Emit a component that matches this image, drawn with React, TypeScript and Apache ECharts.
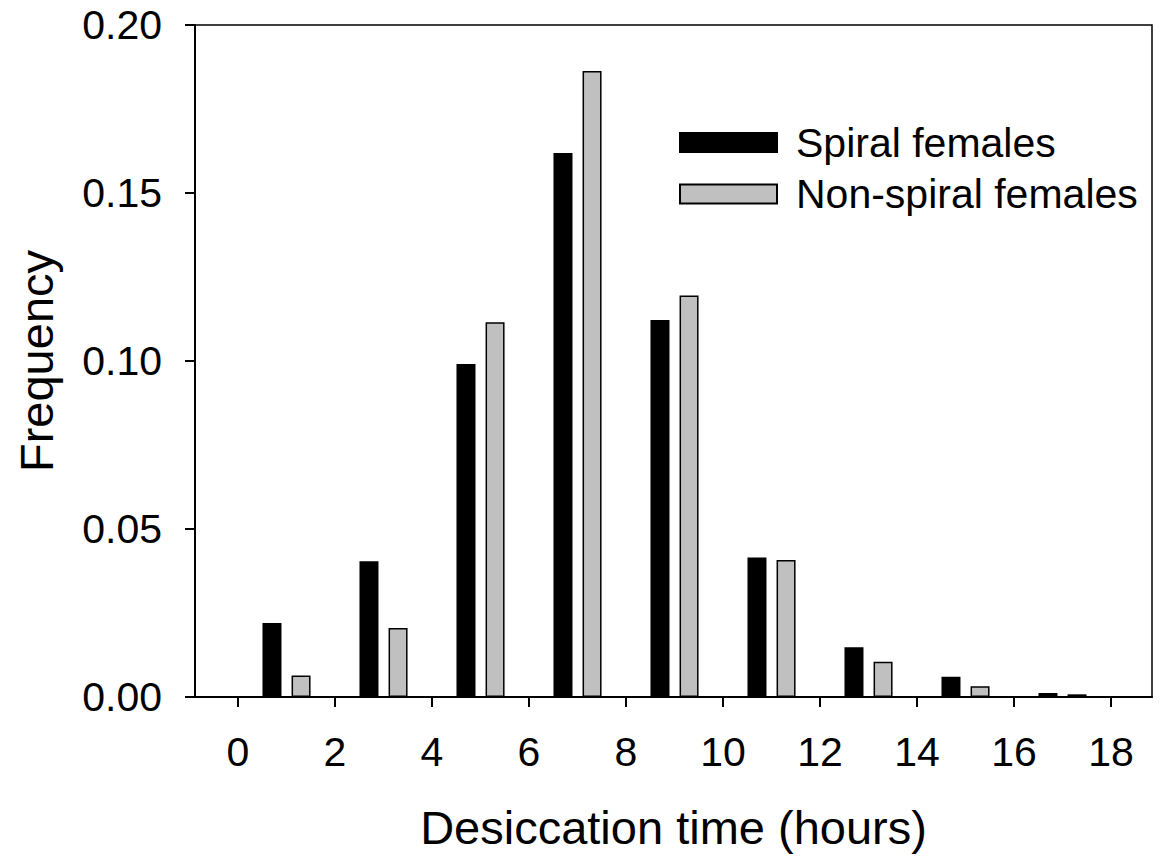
import React, { useEffect, useRef } from "react";
import * as echarts from "echarts";

const bins = [1, 3, 5, 7, 9, 11, 13, 15, 17];
const spiralFemales = [0.022, 0.0404, 0.0991, 0.1619, 0.1122, 0.0415, 0.0148, 0.006, 0.0012];
const nonSpiralFemales = [0.0064, 0.0205, 0.1115, 0.1863, 0.1195, 0.0408, 0.0105, 0.0032, 0.0008];
const xTicks = [0, 2, 4, 6, 8, 10, 12, 14, 16, 18];
const yTicks = [0, 0.05, 0.1, 0.15, 0.2];

const FONT = "'Liberation Sans', Arial, sans-serif";

export default function App() {
  const ref = useRef<HTMLDivElement>(null);
  useEffect(() => {
    if (!ref.current) return;
    const chart = echarts.init(ref.current, undefined, { renderer: "svg" });
    chart.setOption({
      animation: false,
      backgroundColor: "#ffffff",
      textStyle: { fontFamily: FONT, color: "#000" },
      grid: {
        left: 195,
        right: 10,
        top: 25,
        bottom: 163,
        show: true,
        borderColor: "#000",
        borderWidth: 1.5,
        backgroundColor: "transparent",
        outerBoundsMode: "none",
      },
      legend: {
        orient: "vertical",
        left: 679,
        top: 122,
        padding: 0,
        itemWidth: 97,
        itemHeight: 19,
        itemGap: 10.5,
        icon: "rect",
        textStyle: { fontFamily: FONT, fontSize: 41, color: "#000", padding: [0, 0, 0, 14] },
        data: ["Spiral females", "Non-spiral females"],
      },
      xAxis: {
        type: "value",
        min: -0.887,
        max: 18.845,
        name: "Desiccation time (hours)",
        nameLocation: "middle",
        nameGap: 107,
        nameTextStyle: { fontFamily: FONT, fontSize: 47, color: "#000" },
        splitLine: { show: false },
        axisLine: { show: true, onZero: false, lineStyle: { color: "#000", width: 2 } },
        axisTick: {
          show: true,
          inside: false,
          length: 10,
          lineStyle: { color: "#000", width: 2 },
          customValues: xTicks,
        },
        axisLabel: {
          fontFamily: FONT,
          fontSize: 41,
          color: "#000",
          margin: 34,
          customValues: xTicks,
          formatter: (v: number) => String(v),
        },
      },
      yAxis: {
        type: "value",
        min: 0,
        max: 0.2,
        interval: 0.05,
        name: "Frequency",
        nameLocation: "middle",
        nameGap: 135,
        nameTextStyle: { fontFamily: FONT, fontSize: 47, color: "#000" },
        splitLine: { show: false },
        axisLine: { show: true, onZero: false, lineStyle: { color: "#000", width: 2 } },
        axisTick: { show: true, inside: false, length: 10, lineStyle: { color: "#000", width: 2 } },
        axisLabel: {
          fontFamily: FONT,
          fontSize: 41,
          color: "#000",
          margin: 33,
          customValues: yTicks,
          formatter: (v: number) => v.toFixed(2),
        },
      },
      series: [
        {
          name: "Spiral females",
          type: "bar",
          barWidth: 19,
          barGap: "53%",
          data: bins.map((b, i) => [b, spiralFemales[i]]),
          itemStyle: { color: "#000", borderColor: "#000", borderWidth: 1.5 },
        },
        {
          name: "Non-spiral females",
          type: "bar",
          barWidth: 19,
          barGap: "53%",
          data: bins.map((b, i) => [b, nonSpiralFemales[i]]),
          itemStyle: { color: "#c0c0c0", borderColor: "#000", borderWidth: 1.5 },
        },
      ],
    });
    return () => chart.dispose();
  }, []);
  return (
    <div
      ref={ref}
      style={{ position: "fixed", left: 0, top: 0, width: 1162, height: 860 }}
    />
  );
}
